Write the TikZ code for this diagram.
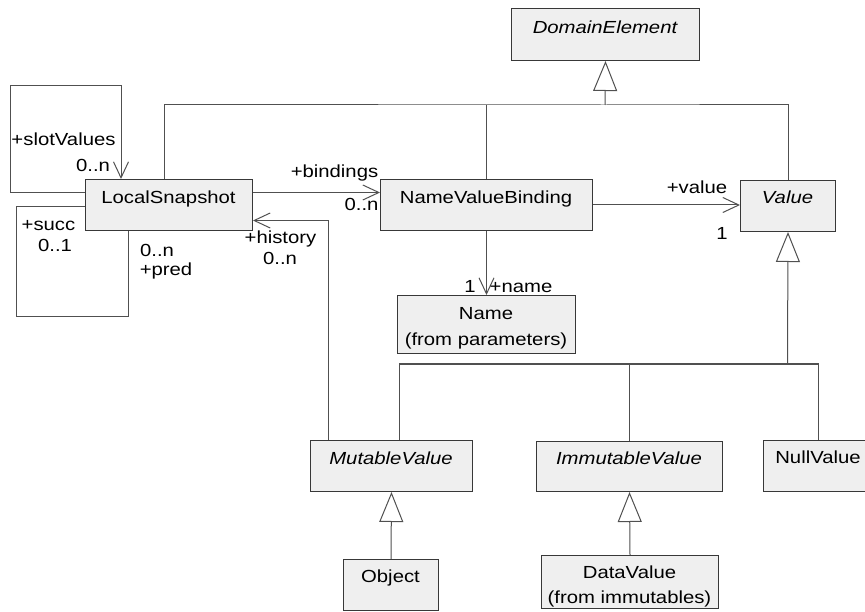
\documentclass[tikz,border=0pt]{standalone}
\usepackage{fontspec}
\setmainfont[FakeStretch=1.16]{Liberation Sans}
\usetikzlibrary{arrows.meta,calc}
\definecolor{boxfill}{HTML}{EFEFEF}
\definecolor{boxedge}{HTML}{383838}
\definecolor{wire}{HTML}{505050}

\begin{document}
\begin{tikzpicture}[x=1pt,y=-1pt,
  cls/.style={draw=boxedge, fill=boxfill, line width=1pt, anchor=north west, inner sep=0pt},
  lbl/.style={inner sep=0pt, text height=12.5pt, text depth=0pt, font=\fontsize{17.5}{21}\selectfont},
  abs/.style={lbl, font=\fontsize{17.5}{21}\selectfont\itshape},
  conn/.style={draw=wire, line width=1pt},
  nav/.style={conn, -{Straight Barb[length=16pt,width=15pt]}},
  gen/.style={conn, -{Triangle[length=30pt,width=24pt,fill=white]}},
]
\useasboundingbox (0,0) rectangle (865,612);

% ---- classes ----
\node[cls, minimum width=188pt, minimum height=52pt] (de)    at (511,8)   {};
\node[cls, minimum width=167pt, minimum height=51pt] (ls)    at (85,179)  {};
\node[cls, minimum width=212pt, minimum height=51pt] (nvb)   at (380,179) {};
\node[cls, minimum width=95pt,  minimum height=51pt] (value) at (740,180) {};
\node[cls, minimum width=178pt, minimum height=58pt] (name)  at (397,295) {};
\node[cls, minimum width=162pt, minimum height=51pt] (mv)    at (310,440) {};
\node[cls, minimum width=186pt, minimum height=50pt] (imv)   at (536,441) {};
\node[cls, minimum width=110pt, minimum height=51pt] (nullv) at (763,440) {};
\node[cls, minimum width=95pt,  minimum height=51pt] (obj)   at (343,559) {};
\node[cls, minimum width=177pt, minimum height=53pt] (dv)    at (541,555) {};

% ---- class names ----
\node[abs] (de-t)    at (605,27)    {DomainElement};
\node[lbl] (ls-t)    at (168.5,197) {LocalSnapshot};
\node[lbl] (nvb-t)   at (486,197)   {NameValueBinding};
\node[abs] (value-t) at (787.5,197) {Value};
\node[lbl] (name-t)  at (486,313)   {Name};
\node[lbl] (name-p)  at (486,339)   {(from parameters)};
\node[abs] (mv-t)    at (391,458)   {MutableValue};
\node[abs] (imv-t)   at (629,458)   {ImmutableValue};
\node[lbl] (nullv-t) at (818,457)   {NullValue};
\node[lbl] (obj-t)   at (390.5,576) {Object};
\node[lbl] (dv-t)    at (629.5,572) {DataValue};
\node[lbl] (dv-p)    at (629.5,597) {(from immutables)};

% ---- generalization to DomainElement ----
\coordinate (deJ) at (605,105);
\coordinate (lsUp) at ($(ls.north west)+(79,0)$);
\draw[gen] (deJ) -- (de.south);
\draw[conn] (lsUp) |- (deJ) -| (value.north);
\draw[conn] (nvb.north) -- (nvb.north |- deJ);

% ---- generalization to Value ----
\coordinate (vJ) at (787.5,364);
\coordinate (mvUp) at ($(mv.north west)+(89,0)$);
\draw[gen] (vJ) -- (value.south);
\draw[conn] (mvUp) |- (vJ) -| (nullv.north);
\draw[conn] (imv.north) -- (imv.north |- vJ);

% ---- leaf generalizations ----
\draw[gen] (obj.north) -- (mv.south);
\draw[gen] (dv.north) -- (imv.south);

% ---- associations ----
\coordinate (bA) at ($(ls.east)+(0,-12.5)$);
\draw[nav] (bA) -- (bA -| nvb.west);
\draw[nav] (nvb.east) -- (nvb.east -| value.west);
\draw[nav] (nvb.south) -- (name.north);

% slotValues self association
\coordinate (slA) at ($(ls.west)+(0,-12.5)$);
\coordinate (slC) at (10,86);
\coordinate (slB) at ($(ls.north west)+(36,0)$);
\draw[nav] (slA) -| (slC) -| (slB);

% succ / pred self association
\coordinate (scA) at ($(ls.west)+(0,1.5)$);
\coordinate (scC) at (16,317);
\coordinate (scB) at ($(ls.south west)+(43,0)$);
\draw[conn] (scA) -| (scC) -| (scB);

% history
\coordinate (hA) at ($(mv.north west)+(18,0)$);
\coordinate (hB) at ($(ls.east)+(0,15.5)$);
\draw[nav] (hA) |- (hB);

% ---- role names and multiplicities ----
\node[lbl] (l-slot)  at (63.5,139.5) {+slotValues};
\node[lbl] (m-slot)  at (93,165.5)   {0..n};
\node[lbl] (l-succ)  at (48.5,224)   {+succ};
\node[lbl] (m-succ)  at (55,245)     {0..1};
\node[lbl] (m-pred)  at (157,250)    {0..n};
\node[lbl] (l-pred)  at (166,269)    {+pred};
\node[lbl] (l-bind)  at (334.5,171)  {+bindings};
\node[lbl] (m-bind)  at (361.5,204)  {0..n};
\node[lbl] (l-hist)  at (280.5,237)  {+history};
\node[lbl] (m-hist)  at (280,258)    {0..n};
\node[lbl] (l-val)   at (697,187)    {+value};
\node[lbl] (m-val)   at (722,233)    {1};
\node[lbl] (m-name)  at (470,286)    {1};
\node[lbl] (l-name)  at (521,286)    {+name};
\end{tikzpicture}
\end{document}
